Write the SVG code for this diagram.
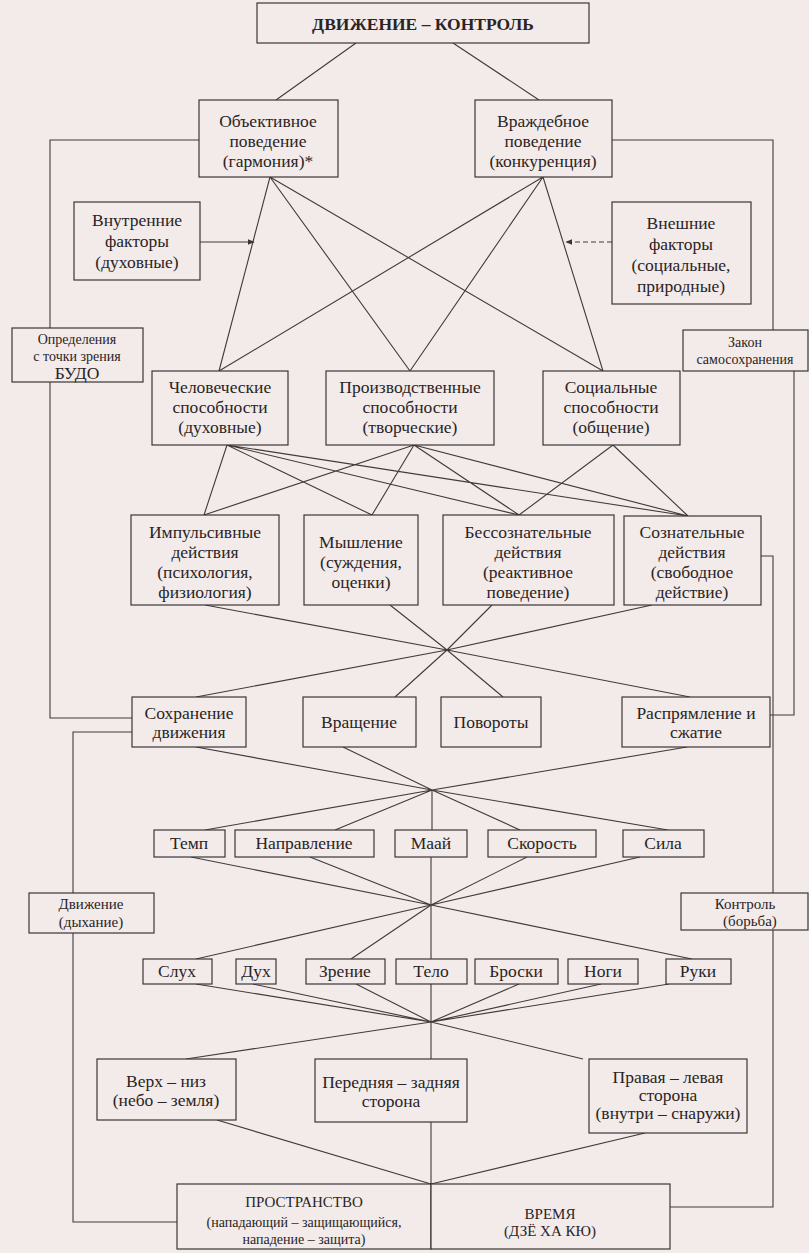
<svg xmlns="http://www.w3.org/2000/svg" width="809" height="1253" viewBox="0 0 809 1253">
<style>
.b{fill:#f2ebea;stroke:#3a3535;stroke-width:1.2}
.c{fill:none;stroke:#403a3a;stroke-width:1.1}
.t{font-family:"Liberation Serif","Times New Roman",serif;font-size:17.5px;fill:#2a2424;text-anchor:middle;dominant-baseline:central}
.s{font-size:14px}
.m{font-size:15px}
</style>
<defs>
<marker id="ah" viewBox="0 0 10 10" refX="9" refY="5" markerWidth="7" markerHeight="7" orient="auto" markerUnits="userSpaceOnUse"><path d="M0,1 L10,5 L0,9 z" fill="#3a3535"/></marker>
</defs>
<rect width="809" height="1253" fill="#f2ebea"/>
<g id="connectors" class="c">
<path d="M356,43 L276,100 M453,43 L539,100"/>
<path d="M199,140 H50 V328 M50,382 V718 H132 M612,140 H773 V330 M794,371 V715 H770 M132,732 H73 V1222 H177 M761,556 H773 V1207 H670"/>
<path d="M200,242 H254" marker-end="url(#ah)"/>
<path d="M612,242 H566" stroke-dasharray="5,3" marker-end="url(#ah)"/>
<path d="M270,177 L219,371 M270,177 L410,371 M270,177 L603,371 M543,177 L219,371 M543,177 L410,371 M543,177 L603,371"/>
<path d="M227,445 L204,515 M227,445 L372,515 M227,445 L519,515 M227,445 L688,516 M414,445 L204,515 M414,445 L372,515 M414,445 L519,515 M414,445 L688,516 M613,445 L519,515 M613,445 L688,516"/>
<path d="M205,605 L447,650 M390,605 L447,650 M492,605 L447,650 M652,605 L447,650 M447,650 L196,697 M447,650 L395,697 M447,650 L503,697 M447,650 L690,697"/>
<path d="M196,747 L432,790 M343,747 L432,790 M687,747 L432,790 M432,790 L205,830 M432,790 L335,830 M432,790 L432,830 M432,790 L520,830 M432,790 L668,830"/>
<path d="M191,857 L431,905 M310,857 L431,905 M431,857 L431,905 M527,857 L431,905 M640,857 L431,905 M431,905 L196,959 M431,905 L351,959 M431,905 L431,959 M431,905 L692,959"/>
<path d="M196,984 L431,1022 M253,984 L431,1022 M356,984 L431,1022 M431,984 L431,1022 M519,984 L431,1022 M601,984 L431,1022 M669,984 L431,1022 M431,1022 L186,1059 M431,1022 L431,1059 M431,1022 L583,1059"/>
<path d="M217,1120 L431,1184 M431,1122 L431,1184 M645,1133 L431,1184"/>
</g>
<g id="n-top"><rect class="b" x="257" y="3" width="332" height="40"/><text class="t" x="423" y="24" font-weight="bold" font-size="16">ДВИЖЕНИЕ – КОНТРОЛЬ</text></g>
<g id="n-obj"><rect class="b" x="199" y="100" width="139" height="77"/><text class="t" x="268" y="121">Объективное</text><text class="t" x="268" y="141">поведение</text><text class="t" x="268" y="161">(гармония)*</text></g>
<g id="n-vr"><rect class="b" x="475" y="100" width="137" height="77"/><text class="t" x="543" y="121">Враждебное</text><text class="t" x="543" y="141">поведение</text><text class="t" x="543" y="161">(конкуренция)</text></g>
<g id="n-vnut"><rect class="b" x="74" y="202" width="126" height="78"/><text class="t" x="137" y="220">Внутренние</text><text class="t" x="137" y="241">факторы</text><text class="t" x="137" y="262">(духовные)</text></g>
<g id="n-vnesh"><rect class="b" x="612" y="202" width="139" height="102"/><text class="t" x="681" y="223">Внешние</text><text class="t" x="681" y="244">факторы</text><text class="t" x="681" y="265">(социальные,</text><text class="t" x="681" y="286">природные)</text></g>
<g id="n-opr"><rect class="b" x="12" y="328" width="131" height="54"/><text class="t s" x="77" y="339">Определения</text><text class="t s" x="77" y="356">с точки зрения</text><text class="t" x="77" y="373" font-size="18">БУДО</text></g>
<g id="n-zakon"><rect class="b" x="683" y="330" width="125" height="41"/><text class="t s" x="745" y="342">Закон</text><text class="t s" x="745" y="359">самосохранения</text></g>
<g id="n-chel"><rect class="b" x="152" y="371" width="136" height="74"/><text class="t" x="220" y="387">Человеческие</text><text class="t" x="220" y="407">способности</text><text class="t" x="220" y="427">(духовные)</text></g>
<g id="n-proizv"><rect class="b" x="326" y="371" width="168" height="74"/><text class="t" x="410" y="387">Производственные</text><text class="t" x="410" y="407">способности</text><text class="t" x="410" y="427">(творческие)</text></g>
<g id="n-soc"><rect class="b" x="543" y="371" width="137" height="74"/><text class="t" x="611" y="387">Социальные</text><text class="t" x="611" y="407">способности</text><text class="t" x="611" y="427">(общение)</text></g>
<g id="n-imp"><rect class="b" x="131" y="515" width="148" height="90"/><text class="t" x="205" y="532">Импульсивные</text><text class="t" x="205" y="552">действия</text><text class="t" x="205" y="572">(психология,</text><text class="t" x="205" y="592">физиология)</text></g>
<g id="n-mysh"><rect class="b" x="304" y="515" width="114" height="90"/><text class="t" x="361" y="542">Мышление</text><text class="t" x="361" y="562">(суждения,</text><text class="t" x="361" y="582">оценки)</text></g>
<g id="n-bess"><rect class="b" x="443" y="515" width="171" height="90"/><text class="t" x="528" y="532">Бессознательные</text><text class="t" x="528" y="552">действия</text><text class="t" x="528" y="572">(реактивное</text><text class="t" x="528" y="592">поведение)</text></g>
<g id="n-soz"><rect class="b" x="624" y="516" width="137" height="89"/><text class="t" x="692" y="532">Сознательные</text><text class="t" x="692" y="552">действия</text><text class="t" x="692" y="572">(свободное</text><text class="t" x="692" y="592">действие)</text></g>
<g id="n-sohr"><rect class="b" x="132" y="697" width="114" height="50"/><text class="t" x="189" y="713">Сохранение</text><text class="t" x="189" y="732">движения</text></g>
<g id="n-vrash"><rect class="b" x="303" y="697" width="113" height="50"/><text class="t" x="359" y="722">Вращение</text></g>
<g id="n-pov"><rect class="b" x="441" y="697" width="100" height="50"/><text class="t" x="491" y="722">Повороты</text></g>
<g id="n-raspr"><rect class="b" x="622" y="697" width="148" height="50"/><text class="t" x="696" y="713">Распрямление и</text><text class="t" x="696" y="732">сжатие</text></g>
<g id="n-temp"><rect class="b" x="154" y="830" width="71" height="27"/><text class="t" x="189" y="843">Темп</text></g>
<g id="n-napr"><rect class="b" x="235" y="830" width="139" height="27"/><text class="t" x="304" y="843">Направление</text></g>
<g id="n-maai"><rect class="b" x="395" y="830" width="72" height="27"/><text class="t" x="431" y="843">Маай</text></g>
<g id="n-skor"><rect class="b" x="488" y="830" width="108" height="27"/><text class="t" x="542" y="843">Скорость</text></g>
<g id="n-sila"><rect class="b" x="623" y="830" width="81" height="27"/><text class="t" x="663" y="843">Сила</text></g>
<g id="n-dvizh"><rect class="b" x="29" y="893" width="125" height="40"/><text class="t m" x="91" y="904">Движение</text><text class="t m" x="91" y="922">(дыхание)</text></g>
<g id="n-kontr"><rect class="b" x="681" y="893" width="127" height="37"/><text class="t m" x="745" y="904">Контроль</text><text class="t m" x="750" y="921">(борьба)</text></g>
<g id="n-sluh"><rect class="b" x="143" y="959" width="69" height="25"/><text class="t" x="177" y="971">Слух</text></g>
<g id="n-duh"><rect class="b" x="236" y="959" width="40" height="25"/><text class="t" x="256" y="971">Дух</text></g>
<g id="n-zren"><rect class="b" x="306" y="959" width="79" height="25"/><text class="t" x="345" y="971">Зрение</text></g>
<g id="n-telo"><rect class="b" x="396" y="959" width="71" height="25"/><text class="t" x="431" y="971">Тело</text></g>
<g id="n-broski"><rect class="b" x="475" y="959" width="83" height="25"/><text class="t" x="516" y="971">Броски</text></g>
<g id="n-nogi"><rect class="b" x="568" y="959" width="70" height="25"/><text class="t" x="603" y="971">Ноги</text></g>
<g id="n-ruki"><rect class="b" x="666" y="959" width="65" height="25"/><text class="t" x="698" y="971">Руки</text></g>
<g id="n-verh"><rect class="b" x="97" y="1059" width="139" height="61"/><text class="t" x="166" y="1081">Верх – низ</text><text class="t" x="166" y="1100">(небо – земля)</text></g>
<g id="n-pered"><rect class="b" x="315" y="1059" width="152" height="63"/><text class="t" x="391" y="1082">Передняя – задняя</text><text class="t" x="391" y="1101">сторона</text></g>
<g id="n-prav"><rect class="b" x="589" y="1059" width="158" height="74"/><text class="t" x="668" y="1077">Правая – левая</text><text class="t" x="668" y="1095">сторона</text><text class="t" x="668" y="1113">(внутри – снаружи)</text></g>
<g id="n-prostr"><rect class="b" x="177" y="1184" width="254" height="65"/><text class="t m" x="304" y="1202">ПРОСТРАНСТВО</text><text class="t s" x="304" y="1222">(нападающий – защищающийся,</text><text class="t s" x="304" y="1239">нападение – защита)</text></g>
<g id="n-vremya"><rect class="b" x="431" y="1184" width="239" height="65"/><text class="t m" x="550" y="1214">ВРЕМЯ</text><text class="t m" x="550" y="1231">(ДЗЁ ХА КЮ)</text></g>
</svg>
